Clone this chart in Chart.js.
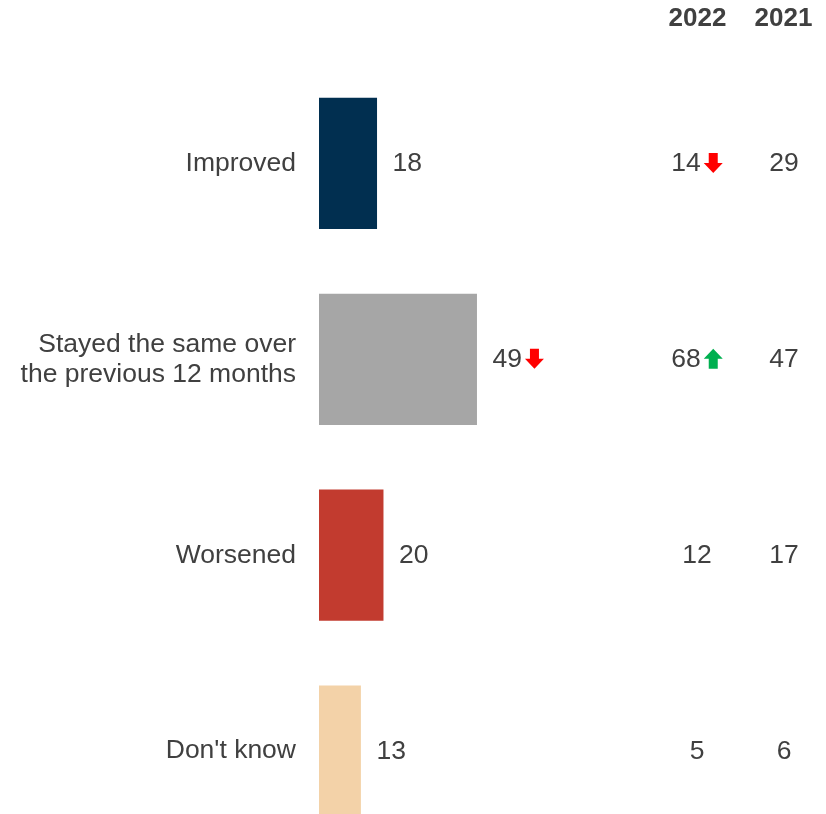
<!DOCTYPE html>
<html>
<head>
<meta charset="utf-8">
<script src="https://cdn.jsdelivr.net/npm/chart.js@4/dist/chart.umd.min.js"></script>
<style>
html,body{margin:0;padding:0;background:#fff;overflow:hidden;}
#wrap{position:relative;width:826px;height:887px;}
</style>
</head>
<body>
<div id="wrap"><canvas id="c"></canvas></div>
<script>
const categories = ['Improved', ['Stayed the same over', 'the previous 12 months'], 'Worsened', "Don't know"];
const values = [18, 49, 20, 13];
const valueArrows = [null, 'down', null, null];
const years = ['2022', '2021'];
const col2022 = [14, 68, 12, 5];
const arrows2022 = ['down', 'up', null, null];
const col2021 = [29, 47, 17, 6];
const barColors = ['#012F50', '#A6A6A6', '#C23B2F', '#F3D2A8'];

const TXT = '#404040';
const FONT = '"Liberation Sans", Arial, sans-serif';
const FS = 26.5;

function drawArrow(ctx, x, cy, dir) {
  const w = 19, h = 20, shaftW = 9, shaftH = 10;
  ctx.save();
  ctx.fillStyle = dir === 'down' ? '#FF0000' : '#00B050';
  ctx.beginPath();
  if (dir === 'down') {
    const top = cy - h / 2;
    ctx.moveTo(x + (w - shaftW) / 2, top);
    ctx.lineTo(x + (w + shaftW) / 2, top);
    ctx.lineTo(x + (w + shaftW) / 2, top + shaftH);
    ctx.lineTo(x + w, top + shaftH);
    ctx.lineTo(x + w / 2, top + h);
    ctx.lineTo(x, top + shaftH);
    ctx.lineTo(x + (w - shaftW) / 2, top + shaftH);
  } else {
    const bot = cy + h / 2;
    ctx.moveTo(x + (w - shaftW) / 2, bot);
    ctx.lineTo(x + (w + shaftW) / 2, bot);
    ctx.lineTo(x + (w + shaftW) / 2, bot - shaftH);
    ctx.lineTo(x + w, bot - shaftH);
    ctx.lineTo(x + w / 2, bot - h);
    ctx.lineTo(x, bot - shaftH);
    ctx.lineTo(x + (w - shaftW) / 2, bot - shaftH);
  }
  ctx.closePath();
  ctx.fill();
  ctx.restore();
}

function drawColumnCell(ctx, cx, cy, val, arrow) {
  const s = String(val);
  const tw = ctx.measureText(s).width;
  const aw = arrow ? 3 + 19 : 0;
  const x0 = cx - (tw + aw) / 2;
  ctx.textAlign = 'left';
  ctx.fillText(s, x0, cy);
  if (arrow) drawArrow(ctx, x0 + tw + 3, cy - 1, arrow);
}

const labelsPlugin = {
  id: 'labelsPlugin',
  afterDatasetsDraw(chart) {
    const ctx = chart.ctx;
    const xs = chart.scales.x, ys = chart.scales.y;
    ctx.save();
    ctx.font = FS + 'px ' + FONT;
    ctx.fillStyle = TXT;
    ctx.textBaseline = 'middle';
    values.forEach((v, i) => {
      const y = ys.getPixelForValue(i) + 0.5;
      const x = xs.getPixelForValue(v) + 15.5;
      const s = String(v);
      ctx.textAlign = 'left';
      ctx.fillText(s, x, y);
      if (valueArrows[i]) drawArrow(ctx, x + ctx.measureText(s).width + 3, y - 1, valueArrows[i]);
      drawColumnCell(ctx, 697, y, col2022[i], arrows2022[i]);
      drawColumnCell(ctx, 784, y, col2021[i], null);
    });
    ctx.font = 'bold 26px ' + FONT;
    ctx.textAlign = 'center';
    ctx.fillText(years[0], 697.5, 19);
    ctx.fillText(years[1], 783.5, 19);
    ctx.restore();
  }
};

new Chart(document.getElementById('c'), {
  type: 'bar',
  data: {
    labels: categories,
    datasets: [{
      data: values,
      backgroundColor: barColors,
      borderWidth: 0,
      categoryPercentage: 1,
      barPercentage: 0.67
    }]
  },
  options: {
    indexAxis: 'y',
    responsive: true,
    maintainAspectRatio: false,
    animation: false,
    devicePixelRatio: 1,
    layout: { padding: { top: 65.5, bottom: 12, left: 0, right: 184.6 } },
    plugins: { legend: { display: false }, tooltip: { enabled: false } },
    scales: {
      x: { display: false, min: 0, max: 100 },
      y: {
        grid: { display: false, drawTicks: false },
        border: { display: false },
        ticks: { color: TXT, font: { family: FONT, size: FS, lineHeight: 1.13 }, padding: 23, autoSkip: false },
        afterFit(scale) { scale.width = 319; }
      }
    }
  },
  plugins: [labelsPlugin]
});
</script>
</body>
</html>
